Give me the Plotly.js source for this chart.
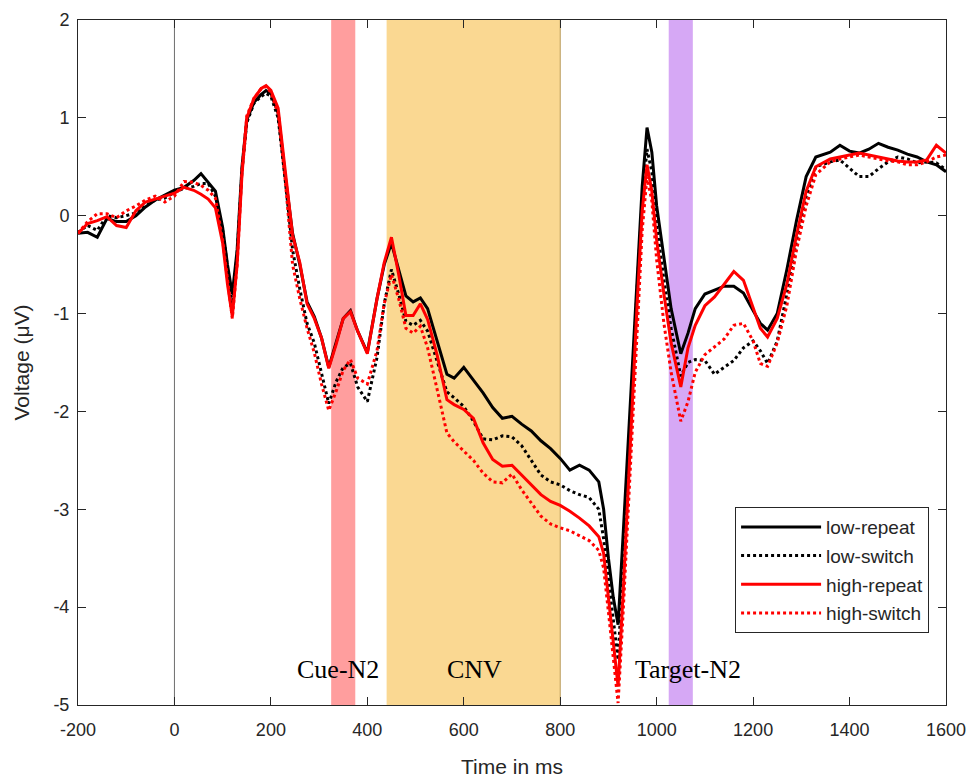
<!DOCTYPE html>
<html>
<head>
<meta charset="utf-8">
<script src="https://cdn.plot.ly/plotly-3.0.1.min.js"></script>
<style>html,body{margin:0;padding:0;background:#fff;}#chart{width:976px;height:780px;}</style>
</head>
<body>
<div id="chart"></div>
<script>
// Time axis (ms)
var times = [-200,-180,-160,-140,-120,-100,-80,-60,-40,-20,0,20,40,55,70,85,100,110,120,130,140,150,165,180,190,200,215,230,245,260,275,290,305,320,335,350,365,380,400,420,435,450,465,480,495,510,525,545,565,580,600,620,640,660,680,700,720,740,760,780,800,820,840,860,880,890,900,910,920,930,940,950,960,970,980,990,1000,1015,1030,1050,1065,1080,1100,1120,1140,1160,1180,1200,1215,1230,1250,1270,1290,1310,1330,1360,1380,1400,1420,1440,1460,1480,1500,1520,1540,1560,1580,1600];

var lowRepeat = [-0.18,-0.17,-0.22,-0.03,-0.06,-0.06,0.00,0.09,0.16,0.21,0.26,0.29,0.36,0.43,0.34,0.25,-0.12,-0.50,-0.80,-0.35,0.50,0.98,1.16,1.24,1.28,1.25,1.05,0.40,-0.18,-0.50,-0.88,-1.03,-1.25,-1.55,-1.30,-1.05,-0.97,-1.18,-1.40,-0.85,-0.50,-0.28,-0.55,-0.82,-0.88,-0.84,-0.95,-1.28,-1.62,-1.66,-1.55,-1.68,-1.81,-1.96,-2.07,-2.05,-2.13,-2.20,-2.30,-2.38,-2.48,-2.60,-2.55,-2.60,-2.72,-3.00,-3.50,-3.90,-4.18,-3.30,-2.40,-1.50,-0.60,0.30,0.90,0.65,0.10,-0.45,-0.95,-1.41,-1.20,-0.95,-0.80,-0.76,-0.72,-0.72,-0.79,-0.97,-1.10,-1.17,-1.00,-0.55,-0.05,0.40,0.60,0.65,0.72,0.66,0.64,0.68,0.74,0.70,0.67,0.63,0.60,0.55,0.52,0.45];

var lowSwitch = [-0.17,-0.10,-0.15,0.00,-0.02,0.00,0.03,0.10,0.16,0.18,0.24,0.28,0.30,0.33,0.33,0.20,-0.15,-0.55,-0.90,-0.40,0.45,0.95,1.15,1.22,1.25,1.22,1.00,0.35,-0.35,-0.75,-1.10,-1.30,-1.60,-1.92,-1.70,-1.55,-1.51,-1.75,-1.90,-1.45,-0.90,-0.55,-0.80,-1.08,-1.12,-1.07,-1.18,-1.48,-1.80,-1.86,-1.95,-2.10,-2.28,-2.29,-2.25,-2.26,-2.35,-2.50,-2.65,-2.72,-2.75,-2.81,-2.85,-2.88,-3.00,-3.30,-3.70,-4.15,-4.54,-3.60,-2.60,-1.65,-0.70,0.15,0.68,0.45,-0.10,-0.65,-1.15,-1.64,-1.50,-1.47,-1.48,-1.62,-1.55,-1.48,-1.35,-1.28,-1.38,-1.51,-1.28,-0.80,-0.25,0.20,0.50,0.55,0.57,0.48,0.40,0.40,0.48,0.55,0.60,0.58,0.54,0.55,0.54,0.47];

var highRepeat = [-0.18,-0.08,-0.05,-0.01,-0.10,-0.12,0.05,0.14,0.17,0.20,0.23,0.29,0.26,0.22,0.17,0.08,-0.28,-0.70,-1.03,-0.50,0.42,1.00,1.20,1.30,1.33,1.28,1.10,0.45,-0.20,-0.48,-0.90,-1.05,-1.25,-1.56,-1.32,-1.05,-0.98,-1.18,-1.41,-0.85,-0.48,-0.22,-0.60,-1.02,-1.02,-0.90,-1.06,-1.43,-1.88,-1.93,-1.98,-2.07,-2.32,-2.49,-2.56,-2.55,-2.65,-2.76,-2.85,-2.92,-2.96,-3.02,-3.09,-3.17,-3.28,-3.45,-3.90,-4.40,-4.81,-3.90,-2.85,-1.85,-0.85,0.05,0.52,0.25,-0.25,-0.80,-1.30,-1.75,-1.35,-1.12,-0.92,-0.83,-0.70,-0.57,-0.66,-0.95,-1.15,-1.24,-1.05,-0.70,-0.20,0.25,0.50,0.58,0.60,0.62,0.64,0.62,0.60,0.58,0.56,0.55,0.55,0.57,0.72,0.64];

var highSwitch = [-0.18,-0.06,0.02,0.02,-0.02,0.05,0.10,0.16,0.20,0.14,0.20,0.35,0.34,0.31,0.26,0.18,-0.25,-0.68,-1.05,-0.50,0.45,1.02,1.20,1.30,1.32,1.26,1.05,0.35,-0.50,-0.85,-1.15,-1.40,-1.72,-1.99,-1.80,-1.58,-1.47,-1.66,-1.72,-1.38,-0.90,-0.60,-0.85,-1.15,-1.20,-1.13,-1.35,-1.78,-2.22,-2.31,-2.40,-2.50,-2.63,-2.72,-2.73,-2.64,-2.80,-2.94,-3.07,-3.15,-3.19,-3.22,-3.27,-3.32,-3.42,-3.60,-4.05,-4.55,-4.98,-4.10,-3.10,-2.10,-1.10,-0.15,0.40,0.15,-0.45,-1.10,-1.60,-2.10,-1.90,-1.60,-1.42,-1.34,-1.26,-1.12,-1.10,-1.28,-1.51,-1.54,-1.30,-0.92,-0.35,0.10,0.42,0.55,0.58,0.60,0.62,0.60,0.58,0.56,0.55,0.52,0.52,0.55,0.60,0.62];

var seriesNames = ['low-repeat','low-switch','high-repeat','high-switch'];

// Time windows (ms)
var windowNames = ['Cue-N2','CNV','Target-N2'];
var windowStart = [325, 440, 1025];
var windowEnd = [375, 800, 1075];
var labelX = [339, 623, 1065];
var labelY = [-4.64, -4.64, -4.64];

var xTickVals = [-200,0,200,400,600,800,1000,1200,1400,1600];
var xTickText = ['-200','0','200','400','600','800','1000','1200','1400','1600'];
var yTickVals = [-5,-4,-3,-2,-1,0,1,2];
var yTickText = ['-5','-4','-3','-2','-1','0','1','2'];

var seriesData = [lowRepeat, lowSwitch, highRepeat, highSwitch];
var colors = ['#000000','#000000','#ff0000','#ff0000'];
var dashes = ['solid','dot','solid','dot'];

var traces = seriesData.map(function(vals, i){
  return {
    x: times, y: vals, type: 'scatter', mode: 'lines', name: seriesNames[i],
    legendgroup: 'g' + i,
    line: {color: colors[i], width: 3, dash: dashes[i]}
  };
});

var bandColors = ['rgba(255,158,158,1)','rgba(250,216,146,1)','rgba(214,168,245,1)'];
var shapes = [];
for (var i = 0; i < windowNames.length; i++) {
  shapes.push({type:'rect', xref:'x', yref:'paper', x0: windowStart[i], x1: windowEnd[i], y0: 0, y1: 1,
    fillcolor: bandColors[i], line: {width: 0}, layer: 'below'});
}
shapes.push({type:'line', xref:'x', yref:'paper', x0: windowEnd[1], x1: windowEnd[1], y0: 0, y1: 1,
  line: {color: '#b99a5a', width: 1}, layer: 'below'});
shapes.push({type:'line', xref:'x', yref:'paper', x0: 0, x1: 0, y0: 0, y1: 1,
  line: {color: '#6e6e6e', width: 1}, layer: 'below'});

var annotations = windowNames.map(function(n, i){
  return {x: labelX[i], y: labelY[i], xref: 'x', yref: 'y', text: n, showarrow: false,
    font: {family: 'Liberation Serif, Times New Roman, serif', size: 26, color: '#000'}};
});

var sans = 'Liberation Sans, Arial, sans-serif';
var axisFont = {family: sans, size: 18, color: '#262626'};

var layout = {
  width: 976, height: 780,
  margin: {l: 78, r: 30, t: 20, b: 75, pad: 0},
  paper_bgcolor: '#fff', plot_bgcolor: '#fff',
  showlegend: true,
  xaxis: {
    range: [-200, 1600], tickvals: xTickVals, ticktext: xTickText,
    ticks: 'inside', ticklen: 8, tickcolor: '#262626', tickwidth: 1,
    showline: true, linecolor: '#262626', linewidth: 1, mirror: 'ticks',
    showgrid: false, zeroline: false, tickfont: axisFont, ticklabelstandoff: 8,
    title: {text: 'Time in ms', font: {family: sans, size: 21, color: '#262626'}, standoff: 20}
  },
  yaxis: {
    range: [-5, 2], tickvals: yTickVals, ticktext: yTickText,
    ticks: 'inside', ticklen: 8, tickcolor: '#262626', tickwidth: 1,
    showline: true, linecolor: '#262626', linewidth: 1, mirror: 'ticks',
    showgrid: false, zeroline: false, tickfont: axisFont, ticklabelstandoff: 4,
    title: {text: 'Voltage (μV)', font: {family: sans, size: 21, color: '#262626'}, standoff: 18}
  },
  legend: {
    x: 0.757, y: 0.289, xanchor: 'left', yanchor: 'top',
    bgcolor: '#fff', bordercolor: '#262626', borderwidth: 1,
    font: {family: sans, size: 19, color: '#262626'},
    tracegroupgap: 1, itemwidth: 80
  },
  shapes: shapes,
  annotations: annotations
};

Plotly.newPlot('chart', traces, layout, {displayModeBar: false, staticPlot: true});
</script>
</body>
</html>
